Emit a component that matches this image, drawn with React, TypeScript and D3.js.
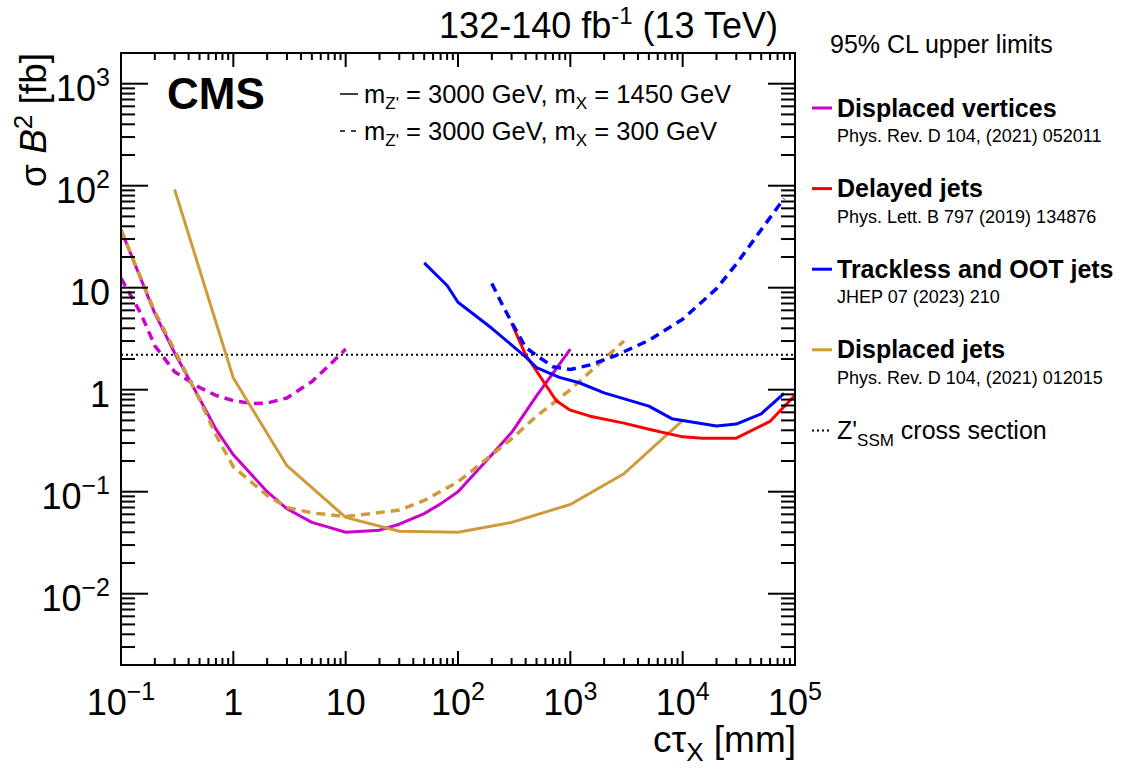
import React from "react";
import * as d3 from "d3";

// ---- data (cτ in mm, σB² in fb) ----
const dvX1450 = [0.1, 0.2, 0.3, 0.5, 0.7, 1, 2, 3, 5, 7, 10, 20, 30, 50, 70, 100, 200, 300, 500, 700, 1000];
const dvY1450 = [37, 5.6, 2.3, 0.82, 0.41, 0.23, 0.1, 0.068, 0.05, 0.045, 0.04, 0.042, 0.048, 0.061, 0.076, 0.1, 0.23, 0.38, 0.87, 1.45, 2.5];

const dvX300 = [0.1, 0.15, 0.2, 0.3, 0.5, 0.7, 1, 1.5, 2, 3, 5, 7, 10];
const dvY300 = [12.4, 5.6, 2.7, 1.5, 1.05, 0.88, 0.78, 0.73, 0.74, 0.83, 1.2, 1.7, 2.5];

const djX1450 = [0.3, 1, 3, 10, 30, 100, 300, 1000, 3000, 10000];
const djY1450 = [92, 1.3, 0.18, 0.056, 0.041, 0.04, 0.05, 0.075, 0.15, 0.5];

const djX300 = [0.1, 0.2, 0.3, 0.5, 0.7, 1, 2, 3, 5, 10, 30, 50, 100, 200, 300, 500, 1000, 2000, 3000];
const djY300 = [37, 5.8, 2.45, 0.8, 0.36, 0.175, 0.092, 0.07, 0.062, 0.057, 0.066, 0.082, 0.125, 0.23, 0.33, 0.55, 1.0, 2.0, 3.0];

const delX1450 = [300, 400, 750, 1000, 1500, 3000, 5000, 10000, 15000, 30000, 60000, 100000];
const delY1450 = [4.5, 2.2, 0.78, 0.63, 0.55, 0.47, 0.41, 0.345, 0.335, 0.335, 0.49, 0.88];

const tkX1450 = [50, 80, 100, 200, 400, 500, 800, 1200, 2000, 5000, 8000, 20000, 30000, 50000, 80000];
const tkY1450 = [17.5, 10.5, 7.2, 4.0, 2.1, 1.65, 1.32, 1.17, 0.93, 0.69, 0.52, 0.44, 0.46, 0.58, 0.92];

const tkX300 = [200, 250, 300, 400, 500, 700, 1000, 1500, 2500, 5000, 10000, 20000, 30000, 50000, 80000];
const tkY300 = [11, 6.7, 4.6, 2.6, 2.17, 1.68, 1.58, 1.75, 2.15, 3.05, 4.9, 9.8, 17, 37, 75];

const zprimeXsec = 2.2;

const xTickLabels = [
  { v: 0.1, base: "10", exp: "\u22121" },
  { v: 1, base: "1", exp: "" },
  { v: 10, base: "10", exp: "" },
  { v: 100, base: "10", exp: "2" },
  { v: 1000, base: "10", exp: "3" },
  { v: 10000, base: "10", exp: "4" },
  { v: 100000, base: "10", exp: "5" },
];
const yTickLabels = [
  { v: 1000, base: "10", exp: "3" },
  { v: 100, base: "10", exp: "2" },
  { v: 10, base: "10", exp: "" },
  { v: 1, base: "1", exp: "" },
  { v: 0.1, base: "10", exp: "\u22121" },
  { v: 0.01, base: "10", exp: "\u22122" },
];

const legendEntries = [
  { name: "Displaced vertices", ref: "Phys. Rev. D 104, (2021) 052011", color: "#cc00cc" },
  { name: "Delayed jets", ref: "Phys. Lett. B 797 (2019) 134876", color: "#ff0000" },
  { name: "Trackless and OOT jets", ref: "JHEP 07 (2023) 210", color: "#0000ff" },
  { name: "Displaced jets", ref: "Phys. Rev. D 104, (2021) 012015", color: "#cf9b3a" },
];

const W = 1127, H = 771;
const L = 121, R = 795, T = 53, B = 665;
const FONT = "'Liberation Sans', Arial, Helvetica, sans-serif";
const DASH = "9,6";

export default function App() {
  const x = d3.scaleLog().domain([0.1, 1e5]).range([L, R]);
  const y = d3.scaleLog().domain([0.002, 2000]).range([B, T]);
  const line = d3.line<[number, number]>().x((d) => x(d[0])).y((d) => y(d[1]));
  const mk = (xs: number[], ys: number[]) => line(xs.map((v, i) => [v, ys[i]] as [number, number])) || "";

  const curves = [
    { xs: dvX1450, ys: dvY1450, color: "#cc00cc", dash: "" },
    { xs: dvX300, ys: dvY300, color: "#cc00cc", dash: DASH },
    { xs: djX1450, ys: djY1450, color: "#cf9b3a", dash: "" },
    { xs: djX300, ys: djY300, color: "#cf9b3a", dash: DASH },
    { xs: delX1450, ys: delY1450, color: "#ff0000", dash: "" },
    { xs: tkX1450, ys: tkY1450, color: "#0000ff", dash: "" },
    { xs: tkX300, ys: tkY300, color: "#0000ff", dash: DASH },
  ];

  const isMajor = (v: number) => Math.abs(Math.log10(v) - Math.round(Math.log10(v))) < 1e-6;
  const xt = x.ticks();
  const yt = y.ticks();

  const legY0 = 108;
  const legStep = 80.6;

  return (
    <svg width={W} height={H} style={{ position: "absolute", left: 0, top: 0, background: "#fff" }} fontFamily={FONT}>
      <defs>
        <clipPath id="plotclip">
          <rect x={L} y={T} width={R - L} height={B - T} />
        </clipPath>
      </defs>
      <rect x={0} y={0} width={W} height={H} fill="#fff" />

      {/* Z' xsec */}
      <line x1={L} x2={R} y1={y(zprimeXsec)} y2={y(zprimeXsec)} stroke="#000" strokeWidth={2} strokeDasharray="2,3" />

      <g clipPath="url(#plotclip)">
        {curves.map((c, i) => (
          <path key={i} d={mk(c.xs, c.ys)} fill="none" stroke={c.color} strokeWidth={c.dash ? 3.5 : 3}
            strokeDasharray={c.dash || undefined} strokeLinejoin="round" />
        ))}
      </g>

      {/* ticks */}
      <g stroke="#000" strokeWidth={2}>
        {xt.map((v, i) => {
          const len = isMajor(v) ? 14 : 7;
          const px = x(v);
          return (
            <g key={"xt" + i}>
              <line x1={px} x2={px} y1={B} y2={B - len} />
              <line x1={px} x2={px} y1={T} y2={T + len} />
            </g>
          );
        })}
        {yt.map((v, i) => {
          const len = isMajor(v) ? 27 : 14;
          const py = y(v);
          return (
            <g key={"yt" + i}>
              <line x1={L} x2={L + len} y1={py} y2={py} />
              <line x1={R} x2={R - len} y1={py} y2={py} />
            </g>
          );
        })}
      </g>
      <rect x={L} y={T} width={R - L} height={B - T} fill="none" stroke="#000" strokeWidth={2} />

      {/* tick labels */}
      {xTickLabels.map((t, i) => (
        <text key={"xl" + i} x={x(t.v)} y={715} fontSize={36} textAnchor="middle">
          {t.base}
          {t.exp && <tspan fontSize={25} dy={-15}>{t.exp}</tspan>}
        </text>
      ))}
      {yTickLabels.map((t, i) => (
        <text key={"yl" + i} x={110} y={y(t.v) + 17} fontSize={36} textAnchor="end">
          {t.base}
          {t.exp && <tspan fontSize={25} dy={-15}>{t.exp}</tspan>}
        </text>
      ))}

      {/* axis titles */}
      <text x={796} y={752} fontSize={37} textAnchor="end">
        cτ<tspan fontSize={26} dy={9}>X</tspan><tspan dy={-9}> [mm]</tspan>
      </text>
      <text transform="translate(46,53) rotate(-90)" fontSize={37} textAnchor="end">
        σ <tspan fontStyle="italic">B</tspan><tspan fontSize={26} dy={-14}>2</tspan><tspan dy={14}> [fb]</tspan>
      </text>

      {/* title */}
      <text x={778} y={38} fontSize={36} textAnchor="end">
        132-140 fb<tspan fontSize={24} dy={-14}>-1</tspan><tspan dy={14}> (13 TeV)</tspan>
      </text>

      {/* CMS */}
      <text x={167} y={109} fontSize={44} fontWeight="bold">CMS</text>

      {/* mass legend */}
      <line x1={340} x2={358} y1={94} y2={94} stroke="#000" strokeWidth={1.5} />
      <text x={364} y={103} fontSize={25.5}>
        m<tspan fontSize={17} dy={6}>Z'</tspan><tspan dy={-6}> = 3000 GeV, m</tspan>
        <tspan fontSize={17} dy={6}>X</tspan><tspan dy={-6}> = 1450 GeV</tspan>
      </text>
      <line x1={340} x2={358} y1={131} y2={131} stroke="#000" strokeWidth={1.5} strokeDasharray="5,6" />
      <text x={364} y={140} fontSize={25.5}>
        m<tspan fontSize={17} dy={6}>Z'</tspan><tspan dy={-6}> = 3000 GeV, m</tspan>
        <tspan fontSize={17} dy={6}>X</tspan><tspan dy={-6}> = 300 GeV</tspan>
      </text>

      {/* right legend */}
      <text x={830} y={53} fontSize={25}>95% CL upper limits</text>
      {legendEntries.map((e, i) => {
        const ly = legY0 + i * legStep;
        return (
          <g key={"leg" + i}>
            <line x1={812} x2={832} y1={ly} y2={ly} stroke={e.color} strokeWidth={3} />
            <text x={837} y={ly + 8.5} fontSize={25} fontWeight="bold">{e.name}</text>
            <text x={837} y={ly + 34} fontSize={18}>{e.ref}</text>
          </g>
        );
      })}
      <line x1={812} x2={832} y1={legY0 + 4 * legStep} y2={legY0 + 4 * legStep} stroke="#000" strokeWidth={2} strokeDasharray="2,3" />
      <text x={837} y={legY0 + 4 * legStep + 8.5} fontSize={25}>
        Z'<tspan fontSize={17} dy={7}>SSM</tspan><tspan dy={-7}> cross section</tspan>
      </text>
    </svg>
  );
}
